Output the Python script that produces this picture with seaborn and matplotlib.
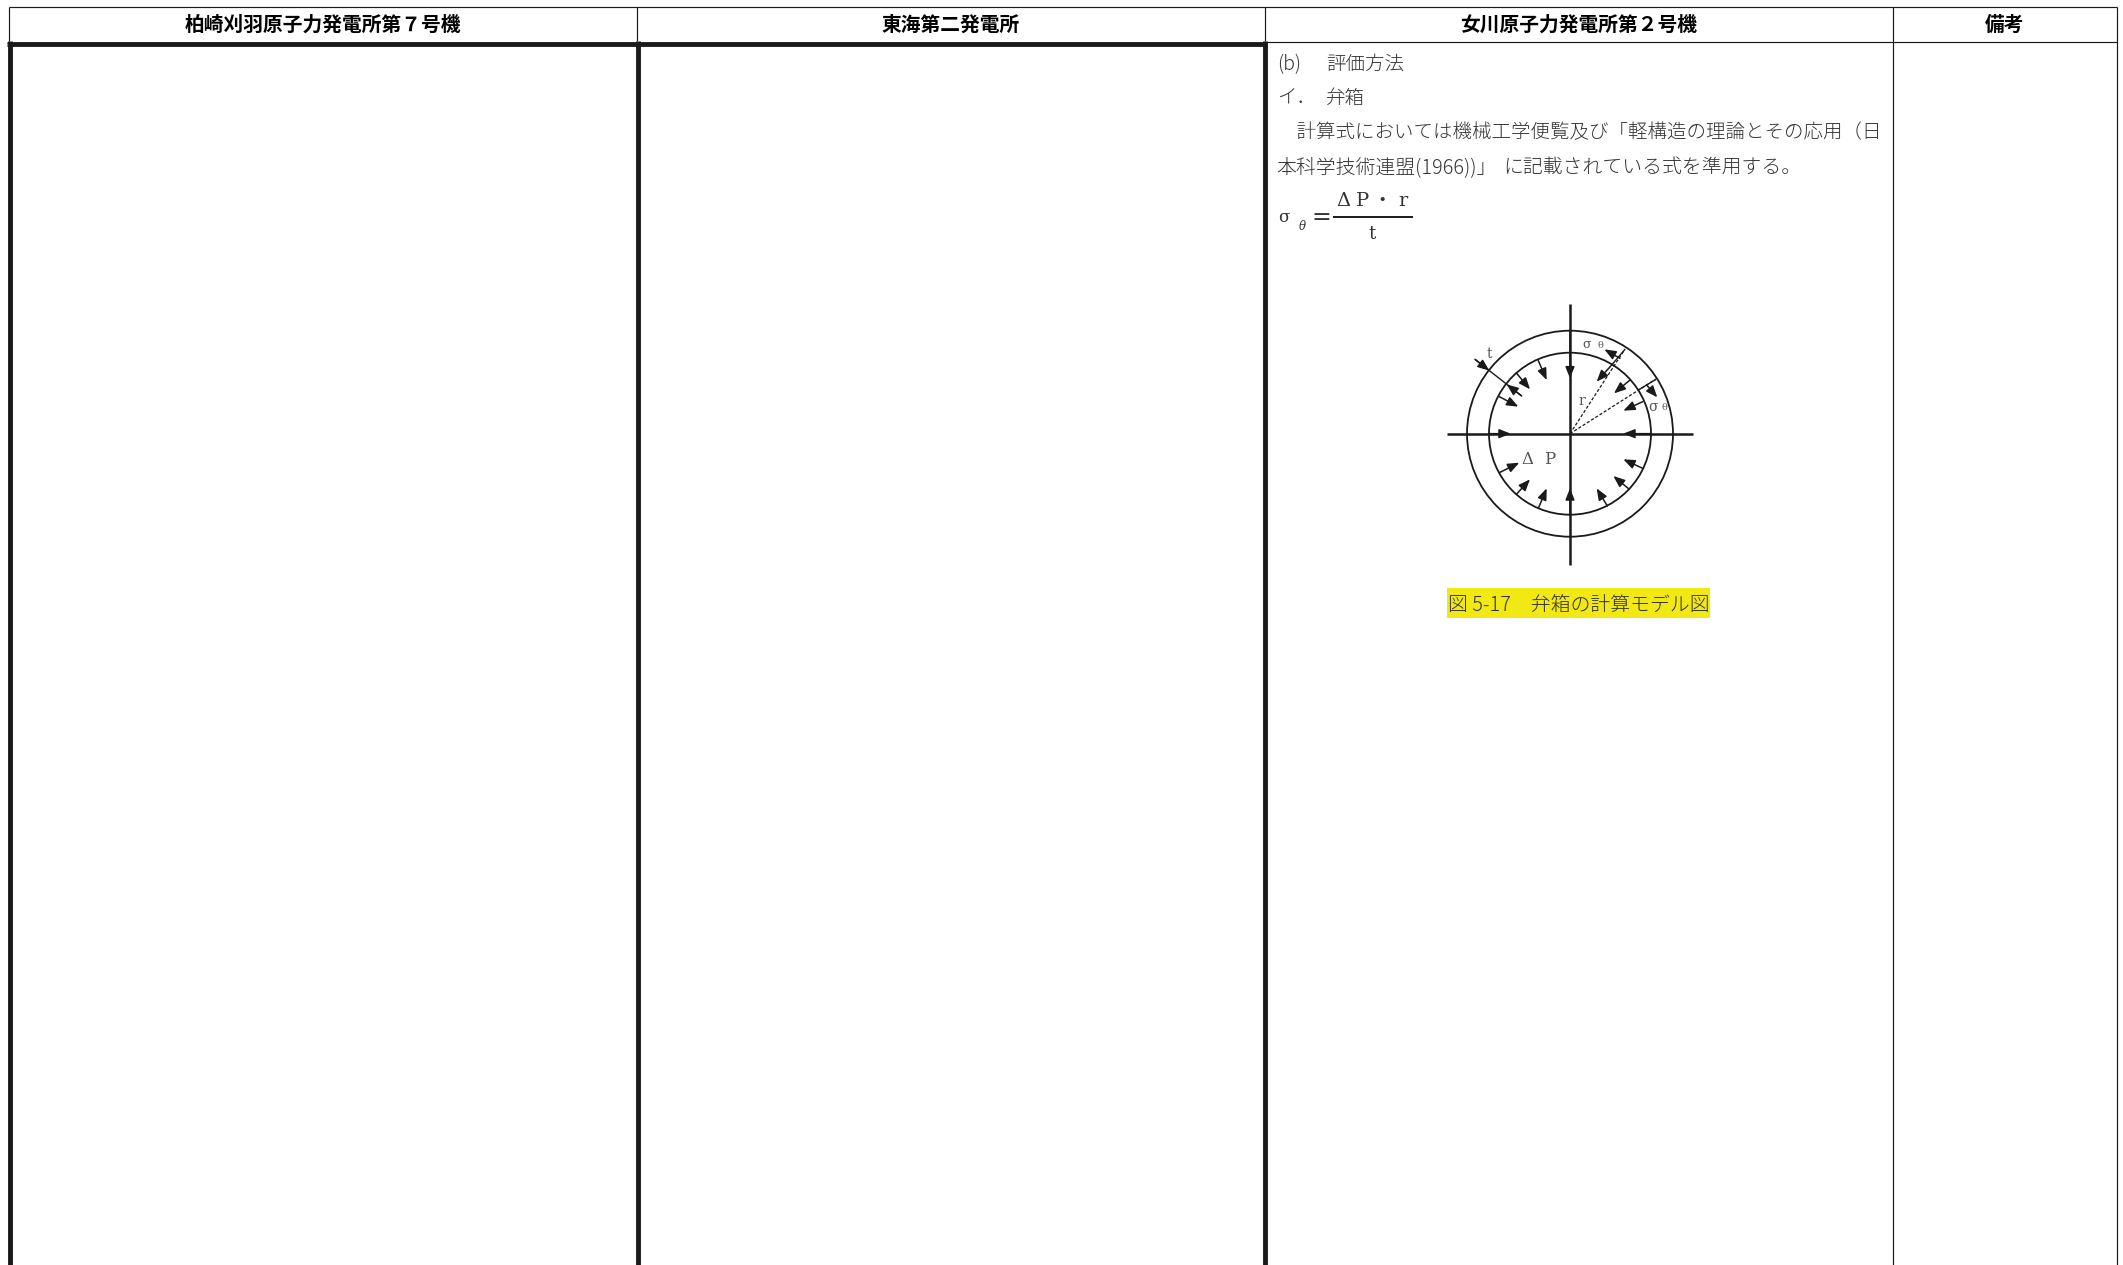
import matplotlib
matplotlib.use("Agg")
import matplotlib.pyplot as plt
from matplotlib.patches import Circle, Rectangle
import numpy as np
import pandas as pd
import seaborn as sns

sns.set_theme(style="white")
plt.rcParams['font.family'] = ['Noto Sans CJK JP', 'DejaVu Sans']

headers = ["柏崎刈羽原子力発電所第７号機", "東海第二発電所", "女川原子力発電所第２号機", "備考"]
body_parts = ["(b)", "評価方法", "イ．", "弁箱",
              "　計算式においては機械工学便覧及び「軽構造の理論とその応用（日",
              "本科学技術連盟(1966))」", "に記載されている式を準用する。"]
caption = "図 5-17　弁箱の計算モデル図"

W, H = 2123, 1265
fig = plt.figure(figsize=(W / 100, H / 100), dpi=100)
ax = fig.add_axes([0, 0, 1, 1])
ax.set_xlim(0, W)
ax.set_ylim(H, 0)
ax.axis("off")

INK = "#1a1a1a"
GREY = "#333333"
SERIF = ["DejaVu Serif", "Noto Sans CJK JP"]


def segs(items, lw, color=INK, ls="-"):
    rows = []
    for i, (x0, y0, x1, y1) in enumerate(items):
        rows += [dict(seg=i, x=x0, y=y0), dict(seg=i, x=x1, y=y1)]
    sns.lineplot(data=pd.DataFrame(rows), x="x", y="y", units="seg", estimator=None,
                 sort=False, ax=ax, color=color, lw=lw, ls=ls, legend=False,
                 solid_capstyle="butt")


# table frame
thin = [(9, 6.5, 2117, 6.5), (9, 6.5, 9, 41), (637, 6.5, 637, 41), (1265, 6.5, 1265, 41),
        (1265, 41.5, 2117, 41.5), (1893, 6.5, 1893, H), (2117, 6.5, 2117, H)]
thick = [(7, 43.5, 1267, 43.5), (9.5, 41, 9.5, H), (637.5, 41, 637.5, H), (1265, 41, 1265, H)]
segs(thin, 0.85)
segs(thick, 3.5)

for x, t in zip([323, 951, 1579, 2005], headers):
    ax.text(x, 25.5, t, ha="center", va="center", fontsize=14.2, fontweight="bold", color="black")

part_pos = [(1277, 64.5), (1326, 64.5), (1277, 98), (1326, 98), (1277, 133), (1276, 167.5), (1503, 167.5)]
for (x, y), t in zip(part_pos, body_parts):
    ax.text(x, y, t, ha="left", va="center", fontsize=14.3 if y > 160 else 14, color=GREY, fontweight="light")

# formula
ax.text(1284, 218, "σ", ha="center", va="center", fontsize=12, color=GREY, family=SERIF)
ax.text(1302, 227, "θ", ha="center", va="center", fontsize=8.5, color=GREY, family=SERIF, style="italic")
ax.text(1321, 217, "=", ha="center", va="center", fontsize=17, color=GREY, family=SERIF)
for x, t in zip([1343, 1363, 1382, 1403], ["Δ", "P", "・", "r"]):
    ax.text(x, 201, t, ha="center", va="center", fontsize=14, color=GREY, family=SERIF)
ax.text(1372, 234, "t", ha="center", va="center", fontsize=13, color=GREY, family=SERIF)
segs([(1333, 217, 1413, 217)], 1.4)

# diagram: center and radii
cx, cy = 1570, 433.7
ax.add_patch(Circle((cx, cy), 103, fill=False, ec=INK, lw=1.3))
ax.add_patch(Circle((cx, cy), 81, fill=False, ec=INK, lw=1.3))
segs([(1447, cy, 1693, cy), (cx, 304, cx, 565)], 1.8)
segs([(cx, cy, 1625, 349), (cx, cy, 1656, 379)], 0.9, ls=(0, (2.5, 1.5)))

# arrows (zoom crop coordinates: start x, start y, tip x, tip y)
arrow_src = [
    (450, 122, 450, 265), (208, 431, 272, 431), (693, 431, 610, 431), (450, 675, 450, 595),
    (355, 212, 380, 270), (290, 250, 330, 298), (238, 320, 295, 350),
    (630, 270, 582, 310), (668, 335, 610, 362), (575, 225, 530, 275),
    (600, 205, 553, 178), (680, 285, 712, 322),
    (238, 548, 298, 518), (290, 612, 330, 568), (355, 655, 380, 595),
    (668, 535, 610, 508), (628, 598, 580, 558), (562, 648, 530, 595),
    (165, 208, 208, 242), (305, 318, 260, 283),
]
plain_src = [(165, 208, 305, 318), (615, 178, 575, 225), (708, 268, 655, 300)]


def to_full(v):
    return (1420 + v[0] / 3, 290 + v[1] / 3, 1420 + v[2] / 3, 290 + v[3] / 3)


segs([to_full(v) for v in plain_src], 1.0)
for v in arrow_src:
    x0, y0, x1, y1 = to_full(v)
    ax.annotate("", xy=(x1, y1), xytext=(x0, y0),
                arrowprops=dict(arrowstyle="-|>,head_length=0.6,head_width=0.24", color=INK, lw=1.1,
                                shrinkA=0, shrinkB=0, mutation_scale=11.5))

for (x, y, t, fs) in [(1587, 345, "σ", 9), (1600, 346, "θ", 7), (1489, 354, "t", 10), (1582, 401, "r", 10),
                      (1653, 407, "σ", 10), (1664, 408, "θ", 7), (1527, 460, "Δ", 12), (1550, 460, "P", 12)]:
    ax.text(x, y, t, ha="center", va="center", fontsize=fs, color="#555555", family=SERIF)

# caption
ax.add_patch(Rectangle((1447, 588), 263, 30, fc="#f2e813", ec="none"))
ax.text(1578.5, 606.5, caption, ha="center", va="center", fontsize=14.3, color=GREY, fontweight="light")

ax.set_xlabel("")
ax.set_ylabel("")
ax.set_xlim(0, W)
ax.set_ylim(H, 0)
fig.savefig("out.png", dpi=100, facecolor="white")
